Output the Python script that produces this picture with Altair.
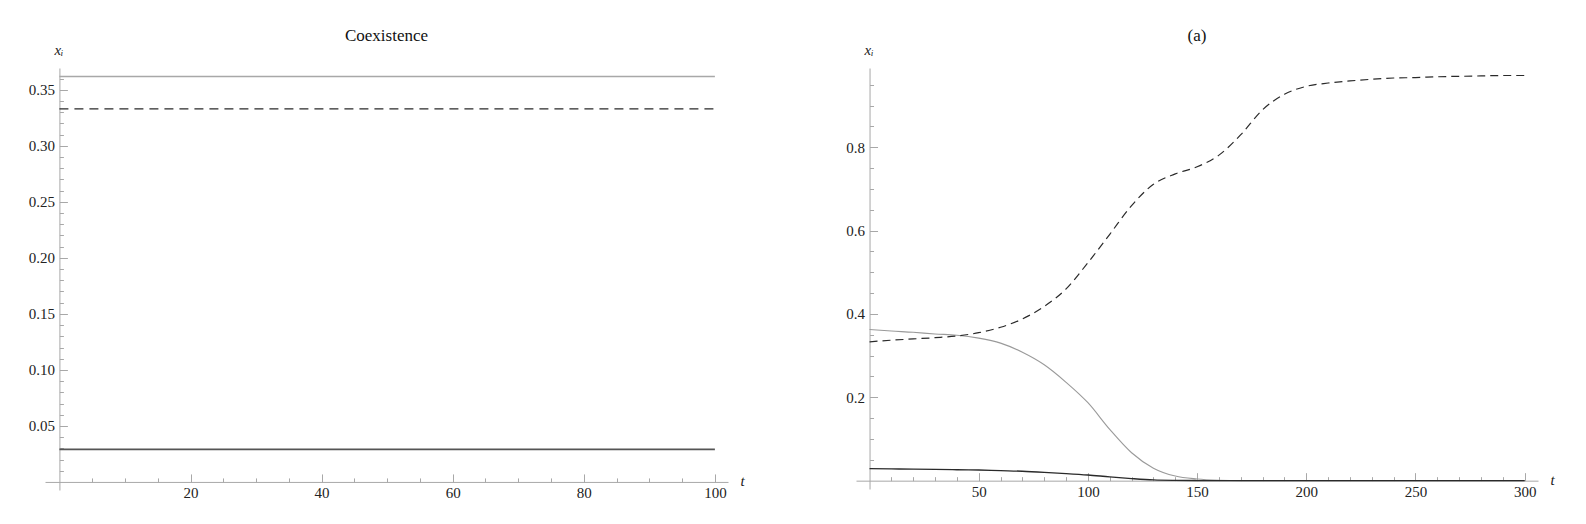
import altair as alt
import pandas as pd

# ---------------- data ----------------
# Left panel: "Coexistence" (constant equilibrium)
coex_t = [0, 100]
coex_x1 = [0.362, 0.362]   # light gray solid
coex_x2 = [0.333, 0.333]   # dashed
coex_x3 = [0.029, 0.029]   # dark solid

# Right panel: "(a)"
a_t = [0, 10, 20, 30, 40, 50, 60, 70, 80, 90, 100, 110, 120, 130, 140, 150,
       160, 170, 180, 190, 200, 210, 220, 230, 240, 250, 260, 270, 280, 290, 300]
a_x1 = [0.3626, 0.359, 0.356, 0.352, 0.349, 0.342, 0.330, 0.308, 0.278, 0.236,
        0.187, 0.123, 0.067, 0.030, 0.011, 0.004, 0.001, 0.0, 0.0, 0.0, 0.0,
        0.0, 0.0, 0.0, 0.0, 0.0, 0.0, 0.0, 0.0, 0.0, 0.0]
a_x2 = [0.333, 0.337, 0.340, 0.343, 0.347, 0.355, 0.368, 0.388, 0.418, 0.460,
        0.523, 0.591, 0.660, 0.711, 0.736, 0.753, 0.781, 0.830, 0.890, 0.927,
        0.946, 0.954, 0.959, 0.963, 0.966, 0.967, 0.969, 0.970, 0.971, 0.972, 0.972]
a_x3 = [0.0288, 0.0283, 0.0278, 0.0270, 0.0263, 0.0255, 0.0240, 0.0225, 0.0200,
        0.0170, 0.0135, 0.0090, 0.0050, 0.0018, 0.0006, 0.0002, 0.0, 0.0, 0.0,
        0.0, 0.0, 0.0, 0.0, 0.0, 0.0, 0.0, 0.0, 0.0, 0.0, 0.0, 0.0]

# tick values
left_x_major = [20, 40, 60, 80, 100]
left_x_minor = [5, 10, 15, 25, 30, 35, 45, 50, 55, 65, 70, 75, 85, 90, 95]
left_y_major = [0.05, 0.10, 0.15, 0.20, 0.25, 0.30, 0.35]
left_y_minor = [0.01, 0.02, 0.03, 0.04, 0.06, 0.07, 0.08, 0.09, 0.11, 0.12, 0.13,
                0.14, 0.16, 0.17, 0.18, 0.19, 0.21, 0.22, 0.23, 0.24, 0.26, 0.27,
                0.28, 0.29, 0.31, 0.32, 0.33, 0.34, 0.36, 0.37]
right_x_major = [50, 100, 150, 200, 250, 300]
right_x_minor = [10, 20, 30, 40, 60, 70, 80, 90, 110, 120, 130, 140, 160, 170,
                 180, 190, 210, 220, 230, 240, 260, 270, 280, 290]
right_y_major = [0.2, 0.4, 0.6, 0.8]
right_y_minor = [0.05, 0.10, 0.15, 0.25, 0.30, 0.35, 0.45, 0.50, 0.55, 0.65,
                 0.70, 0.75, 0.85, 0.90, 0.95]

FONT = "Liberation Serif"
AX = "#a8a8a8"
LBL = "#222222"


def panel(t, s1, s2, s3, xdom, ydom, w, h, xmaj, xmin, ymaj, ymin, yfmt,
          title, interp, styles):
    n = len(t)
    df = pd.DataFrame({"t": list(t) * 3,
                       "v": list(s1) + list(s2) + list(s3),
                       "s": ["a"] * n + ["b"] * n + ["c"] * n})
    xs = alt.Scale(domain=xdom, nice=False, zero=False)
    ys = alt.Scale(domain=ydom, nice=False, zero=False)
    # pixel position of t=0 and v=0 inside the plot
    x0 = (0 - xdom[0]) / (xdom[1] - xdom[0]) * w
    y0 = (0 - ydom[0]) / (ydom[1] - ydom[0]) * h

    xA = alt.Axis(orient="bottom", offset=-y0, values=xmaj, format="d",
                  ticks=False, domain=True, domainColor=AX, domainWidth=1,
                  labelFont=FONT, labelFontSize=15, labelColor=LBL, labelPadding=4,
                  labelFlush=False, labelOverlap=False, grid=False,
                  title="t", titleFont=FONT, titleFontSize=15, titleFontStyle="italic",
                  titleFontWeight="normal", titleColor=LBL, titleX=w + 12, titleY=4,
                  titleAlign="left", titleBaseline="alphabetic")
    yA = alt.Axis(orient="left", offset=-x0, values=ymaj, format=yfmt,
                  ticks=False, domain=True, domainColor=AX, domainWidth=1,
                  labelFont=FONT, labelFontSize=15, labelColor=LBL, labelPadding=5,
                  labelFlush=False, labelOverlap=False, grid=False,
                  title="xᵢ", titleFont=FONT, titleFontSize=15, titleFontStyle="italic",
                  titleFontWeight="normal", titleColor=LBL, titleAngle=0,
                  titleX=-1, titleY=-14, titleAlign="center", titleBaseline="alphabetic")
    xB = alt.Axis(orient="top", offset=-(h - y0), values=xmaj, labels=False,
                  domain=False, ticks=True, tickSize=8, tickColor=AX, grid=False, title=None)
    yB = alt.Axis(orient="right", offset=-(w - x0), values=ymaj, labels=False,
                  domain=False, ticks=True, tickSize=8, tickColor=AX, grid=False, title=None)
    xC = alt.Axis(orient="top", offset=-(h - y0), values=xmin, labels=False,
                  domain=False, ticks=True, tickSize=4, tickColor=AX, grid=False, title=None)
    yC = alt.Axis(orient="right", offset=-(w - x0), values=ymin, labels=False,
                  domain=False, ticks=True, tickSize=4, tickColor=AX, grid=False, title=None)

    base = alt.Chart(df)
    layers = []
    for key, xa, ya, st in [("a", xA, yA, styles[0]), ("b", xB, yB, styles[1]),
                            ("c", xC, yC, styles[2])]:
        kw = dict(color=st["color"], strokeWidth=st["width"], interpolate=interp)
        if "dash" in st:
            kw["strokeDash"] = st["dash"]
        layers.append(
            base.transform_filter(alt.datum.s == key)
            .mark_line(**kw)
            .encode(x=alt.X("t:Q", scale=xs, axis=xa),
                    y=alt.Y("v:Q", scale=ys, axis=ya))
        )
    return (alt.layer(*layers)
            .resolve_axis(x="independent", y="independent")
            .properties(width=w, height=h,
                        title=alt.TitleParams(text=title, font=FONT, fontSize=17,
                                              fontWeight="normal", color="#111111",
                                              anchor="middle", frame="group", offset=-3)))


left = panel(coex_t, coex_x1, coex_x2, coex_x3,
             xdom=[-2.2, 102], ydom=[-0.0072, 0.3695], w=683, h=422,
             xmaj=left_x_major, xmin=left_x_minor, ymaj=left_y_major,
             ymin=left_y_minor, yfmt=".2f", title="Coexistence",
             interp="linear",
             styles=[{"color": "#a8a8a8", "width": 1.5},
                     {"color": "#2a2a2a", "width": 1.2, "dash": [9, 6]},
                     {"color": "#555555", "width": 1.7}])

right = panel(a_t, a_x1, a_x2, a_x3,
              xdom=[-6.2, 306.1], ydom=[-0.02, 0.99], w=682, h=421,
              xmaj=right_x_major, xmin=right_x_minor, ymaj=right_y_major,
              ymin=right_y_minor, yfmt=".1f", title="(a)",
              interp="monotone",
              styles=[{"color": "#9a9a9a", "width": 1.1},
                      {"color": "#2a2a2a", "width": 1.2, "dash": [8, 5]},
                      {"color": "#2a2a2a", "width": 1.4}])

chart = (alt.hconcat(left, right, spacing=128, bounds="flush")
         .properties(padding={"left": 20, "top": 19, "right": 5, "bottom": 5},
                     background="white")
         .configure_view(stroke=None))

chart.save("out.html", embed_options={"renderer": "svg", "actions": False})
